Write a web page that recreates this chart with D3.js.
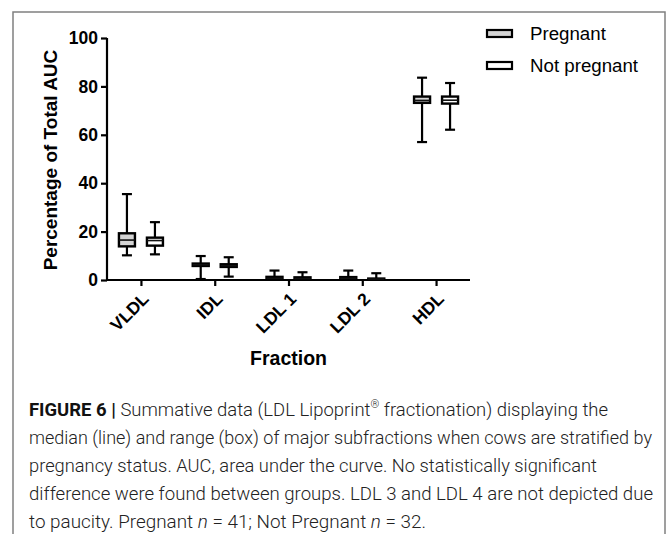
<!DOCTYPE html>
<html>
<head>
<meta charset="utf-8">
<script src="https://cdn.jsdelivr.net/npm/d3@7"></script>
<style>
  body { margin: 0; background: #fff; }
  svg { display: block; }
</style>
</head>
<body>
<div id="chart"></div>
<script>
// data: [min, q1, median, q3, max]
var categories = ["VLDL", "IDL", "LDL 1", "LDL 2", "HDL"];
var seriesNames = ["Pregnant", "Not pregnant"];
var pregnantStats = [
    [10.2, 13.9, 16.5, 19.3, 35.5],
    [0.4, 5.8, 6.3, 6.8, 9.9],
    [0.1, 0.3, 0.7, 1.3, 3.9],
    [0.1, 0.3, 0.7, 1.2, 3.9],
    [57.0, 73.2, 74.2, 75.8, 83.6]
];
var notPregnantStats = [
    [10.6, 14.2, 16.3, 17.5, 23.9],
    [1.4, 5.4, 5.9, 6.5, 9.4],
    [0.1, 0.3, 0.6, 1.1, 3.2],
    [0.1, 0.2, 0.4, 0.6, 2.8],
    [62.1, 72.9, 74.3, 75.8, 81.4]
];
var yTicks = [0, 20, 40, 60, 80, 100];
var seriesFill = ["#d4d4d4", "#ffffff"];

var width = 669, height = 534;
var svg = d3.select("#chart").append("svg")
    .attr("width", width)
    .attr("height", height);

// grey frame round the figure (open at the bottom)
svg.append("path")
    .attr("d", "M13,540 L13,12 L665,12 L665,540")
    .attr("fill", "none")
    .attr("stroke", "#808080")
    .attr("stroke-width", 1.5);

var x0 = 107, x1 = 470, yTop = 38, yBase = 280;
var x = d3.scalePoint().domain(categories).range([x0, x1]).padding(0.46);
var y = d3.scaleLinear().domain([0, 100]).range([yBase, yTop]);
var offsets = [-14, 14];
var boxW = 16, capW = 10;

// y axis
var yAxis = svg.append("g")
    .attr("transform", "translate(" + x0 + ",0)")
    .call(d3.axisLeft(y).tickValues(yTicks).tickSize(6).tickPadding(3));
yAxis.select(".domain").attr("stroke", "#000").attr("stroke-width", 2.2)
    .attr("d", "M0," + y(100) + "V" + y(0));
yAxis.selectAll(".tick line").attr("stroke", "#000").attr("stroke-width", 2.2);
yAxis.selectAll(".tick text")
    .attr("font-family", "Liberation Sans, Arial, sans-serif")
    .attr("font-weight", "bold")
    .attr("font-size", "17.5px")
    .attr("fill", "#000");

// x axis
var xAxis = svg.append("g")
    .attr("transform", "translate(0," + yBase + ")")
    .call(d3.axisBottom(x).tickSize(6).tickFormat(""));
xAxis.select(".domain").attr("stroke", "#000").attr("stroke-width", 2.2)
    .attr("d", "M" + x0 + ",0H" + x1);
xAxis.selectAll(".tick line").attr("stroke", "#000").attr("stroke-width", 2.2);

svg.append("g").selectAll("text")
    .data(categories)
    .enter()
    .append("text")
    .attr("transform", function (d) { return "translate(" + (x(d) + 9) + "," + (yBase + 20) + ") rotate(-45)"; })
    .attr("text-anchor", "end")
    .attr("font-family", "Liberation Sans, Arial, sans-serif")
    .attr("font-weight", "bold")
    .attr("font-size", "17.5px")
    .text(function (d) { return d; });

// axis titles
svg.append("text")
    .attr("transform", "translate(57," + ((y(0) + y(100)) / 2 + 1) + ") rotate(-90)")
    .attr("text-anchor", "middle")
    .attr("font-family", "Liberation Sans, Arial, sans-serif")
    .attr("font-weight", "bold")
    .attr("font-size", "19px")
    .text("Percentage of Total AUC");

svg.append("text")
    .attr("x", (x0 + x1) / 2)
    .attr("y", 365)
    .attr("text-anchor", "middle")
    .attr("font-family", "Liberation Sans, Arial, sans-serif")
    .attr("font-weight", "bold")
    .attr("font-size", "19.5px")
    .text("Fraction");

// boxes
function drawBoxes(stats, s) {
    var g = svg.append("g").attr("class", "series-" + s);
    stats.forEach(function (st, i) {
        var cx = x(categories[i]) + offsets[s];
        var one = g.append("g");
        // whisker
        one.append("line")
            .attr("x1", cx).attr("x2", cx)
            .attr("y1", y(st[0])).attr("y2", y(st[4]))
            .attr("stroke", "#000").attr("stroke-width", 2.2);
        [st[0], st[4]].forEach(function (v) {
            one.append("line")
                .attr("x1", cx - capW / 2).attr("x2", cx + capW / 2)
                .attr("y1", y(v)).attr("y2", y(v))
                .attr("stroke", "#000").attr("stroke-width", 2.2);
        });
        one.append("rect")
            .attr("x", cx - boxW / 2)
            .attr("y", y(st[3]))
            .attr("width", boxW)
            .attr("height", y(st[1]) - y(st[3]))
            .attr("fill", seriesFill[s])
            .attr("stroke", "#000")
            .attr("stroke-width", 2.4);
        one.append("line")
            .attr("x1", cx - boxW / 2).attr("x2", cx + boxW / 2)
            .attr("y1", y(st[2])).attr("y2", y(st[2]))
            .attr("stroke", "#111").attr("stroke-width", 1.6);
    });
}
drawBoxes(pregnantStats, 0);
drawBoxes(notPregnantStats, 1);

// legend
var legend = svg.append("g");
seriesNames.forEach(function (name, s) {
    var ly = 33.5 + s * 32;
    legend.append("rect")
        .attr("x", 487).attr("y", ly - 3.5)
        .attr("width", 25).attr("height", 7)
        .attr("fill", seriesFill[s])
        .attr("stroke", "#000")
        .attr("stroke-width", 2.2);
    legend.append("text")
        .attr("x", 530).attr("y", ly + 6.5)
        .attr("font-family", "Liberation Sans, Arial, sans-serif")
        .attr("font-size", "18.7px")
        .text(name);
});

// caption
var capLines = [
    { len: 579, parts: [["FIGURE 6 | ", "b"], ["Summative data (LDL Lipoprint", ""], ["®", "sup"], [" fractionation) displaying the", ""]] },
    { len: 623, parts: [["median (line) and range (box) of major subfractions when cows are stratified by", ""]] },
    { len: 568, parts: [["pregnancy status. AUC, area under the curve. No statistically significant", ""]] },
    { len: 624, parts: [["difference were found between groups. LDL 3 and LDL 4 are not depicted due", ""]] },
    { len: 397, parts: [["to paucity. Pregnant ", ""], ["n", "i"], [" = 41; Not Pregnant ", ""], ["n", "i"], [" = 32.", ""]] }
];
var cap = svg.append("g")
    .attr("font-family", "Roboto, Liberation Sans, Arial, sans-serif")
    .attr("font-size", "18.5px")
    .attr("font-weight", 300)
    .attr("fill", "#222");
capLines.forEach(function (line, i) {
    var t = cap.append("text")
        .attr("x", 29)
        .attr("y", 416 + i * 28)
        .attr("textLength", line.len)
        .attr("lengthAdjust", "spacingAndGlyphs");
    line.parts.forEach(function (p) {
        var ts = t.append("tspan").text(p[0]);
        if (p[1] == "b") { ts.attr("font-weight", "bold").attr("fill", "#111"); }
        if (p[1] == "i") { ts.attr("font-style", "italic"); }
        if (p[1] == "sup") { ts.attr("font-size", "11px").attr("dy", -8); }
        if (p[1] == "" && i == 0 && p[0].charAt(0) == " ") { ts.attr("dy", 8); }
    });
});
</script>
</body>
</html>
